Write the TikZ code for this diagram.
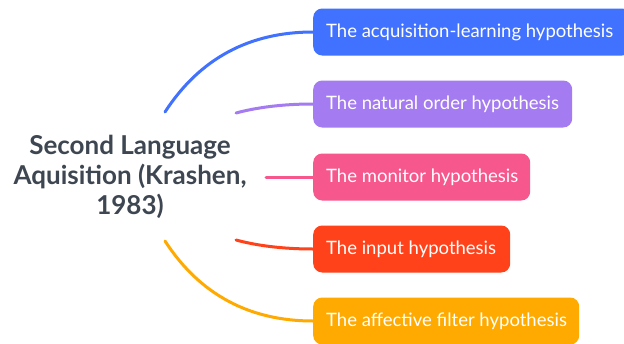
\documentclass[tikz,border=0pt]{standalone}
\usepackage{fontspec}
\setmainfont{Lato}
\definecolor{cblue}{HTML}{4171FF}
\definecolor{cpurple}{HTML}{A47BF0}
\definecolor{cpink}{HTML}{F6578C}
\definecolor{cred}{HTML}{FF421A}
\definecolor{corange}{HTML}{FFAA00}
\definecolor{ctext}{HTML}{3D4651}
\newcommand{\topictext}[2]{\makebox[#1][l]{#2}}
\begin{document}
\begin{tikzpicture}[x=1pt,y=-1pt,
  topic/.style={draw=none,rounded corners=9pt,minimum height=47pt,inner xsep=13pt,
    anchor=west,text=white,font=\fontsize{18.5}{22}\selectfont},
  link/.style={line width=3pt,line cap=round}]
\useasboundingbox[fill=white] (0,0) rectangle (624,343);
% central topic
\node[align=center,text=ctext,font=\bfseries\fontsize{26}{30}\selectfont] (c) at (130,177)
  {Second Language\\Aquisition (Krashen,\\1983)};
% subtopics
\node[topic,fill=cblue] (b1) at (313,32) {\topictext{292pt}{The acquisition-learning hypothesis}};
\node[topic,fill=cpurple] (b2) at (313,104) {\topictext{233pt}{The natural order hypothesis}};
\node[topic,fill=cpink] (b3) at (313,177) {\topictext{191pt}{The monitor hypothesis}};
\node[topic,fill=cred] (b4) at (313,249) {\topictext{171pt}{The input hypothesis}};
\node[topic,fill=corange] (b5) at (313,321) {\topictext{240pt}{The affective filter hypothesis}};
% branch starts around the central topic
\coordinate (s1) at (165,112);
\coordinate (s2) at (236,113);
\coordinate (s3) at (266,177);
\coordinate (s4) at (236,240);
\coordinate (s5) at (165,241);
% branches
\draw[link,cblue] (s1) .. controls (200,58) and (250,32) .. (b1.west);
\draw[link,cpurple] (s2) .. controls (262,106) and (290,104) .. (b2.west);
\draw[link,cpink] (s3) -- (b3.west);
\draw[link,cred] (s4) .. controls (262,247) and (290,249) .. (b4.west);
\draw[link,corange] (s5) .. controls (200,295) and (250,321) .. (b5.west);
\end{tikzpicture}
\end{document}
